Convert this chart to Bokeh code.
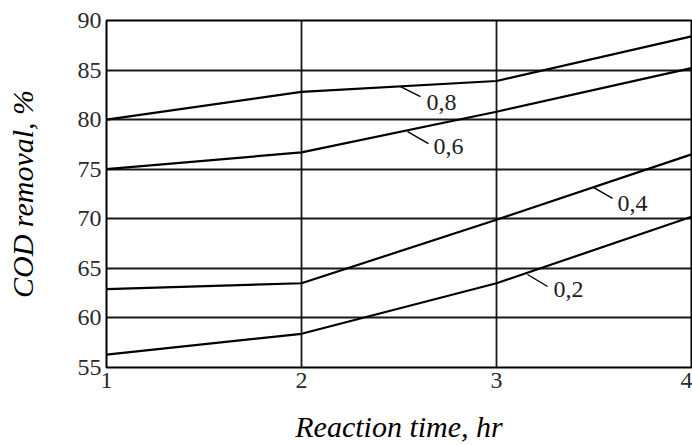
from bokeh.plotting import figure
from bokeh.models import Range1d, FixedTicker, Label
from bokeh.embed import file_html
from bokeh.resources import INLINE

# Data
times = [1, 2, 3, 4]
series_names = ["0,8", "0,6", "0,4", "0,2"]
cod_08 = [80.0, 82.8, 83.9, 88.4]
cod_06 = [75.0, 76.7, 80.8, 85.2]
cod_04 = [62.9, 63.5, 69.9, 76.5]
cod_02 = [56.3, 58.4, 63.5, 70.2]
x_ticks = [1, 2, 3, 4]
y_ticks = [55, 60, 65, 70, 75, 80, 85, 90]

FONT = "Liberation Serif"

p = figure(width=692, height=445, output_backend="svg", toolbar_location=None,
           x_range=Range1d(1, 4), y_range=Range1d(55, 90),
           min_border_left=106, min_border_right=1, min_border_top=20, min_border_bottom=78)

p.outline_line_color = "black"
p.outline_line_width = 2

for g, ticks in ((p.xgrid, x_ticks), (p.ygrid, y_ticks)):
    g.ticker = FixedTicker(ticks=ticks)
    g.grid_line_color = "black"
    g.grid_line_width = 1.8
    g.grid_line_alpha = 0.9

p.xaxis.ticker = FixedTicker(ticks=x_ticks)
p.yaxis.ticker = FixedTicker(ticks=y_ticks)
for ax in (p.xaxis, p.yaxis):
    ax.axis_line_color = None
    ax.major_tick_line_color = None
    ax.minor_tick_line_color = None
    ax.major_tick_out = 0
    ax.major_tick_in = 0
    ax.minor_tick_out = 0
    ax.major_label_text_font = FONT
    ax.major_label_text_font_size = "24px"
    ax.major_label_text_color = "#2a2a2a"
    ax.axis_label_text_font = FONT
    ax.axis_label_text_font_style = "italic"
    ax.axis_label_text_font_size = "30px"
    ax.axis_label_text_color = "black"
p.xaxis.major_label_standoff = 5
p.yaxis.major_label_standoff = 5
p.xaxis.axis_label = "Reaction time, hr"
p.yaxis.axis_label = "COD removal, %"
p.xaxis.axis_label_standoff = 19
p.yaxis.axis_label_standoff = 36

for ys in (cod_08, cod_06, cod_04, cod_02):
    p.line(times, ys, line_color="black", line_width=2.2)

# Leader lines and labels
leaders = [
    ((2.508, 2.610), (83.34, 82.33), (2.641, 81.73)),
    ((2.544, 2.651), (78.80, 77.59), (2.677, 77.29)),
    ((3.497, 3.595), (73.16, 72.05), (3.621, 71.54)),
    ((3.159, 3.262), (64.38, 63.17), (3.292, 62.87)),
]
for name, (lx, ly, (tx, ty)) in zip(series_names, leaders):
    p.line(list(lx), list(ly), line_color="black", line_width=1.4)
    p.add_layout(Label(x=tx, y=ty, text=name, text_font=FONT, text_font_size="24px",
                       text_baseline="middle", text_align="left", text_color="#222"))

open("out.html", "w").write(file_html(p, INLINE))
